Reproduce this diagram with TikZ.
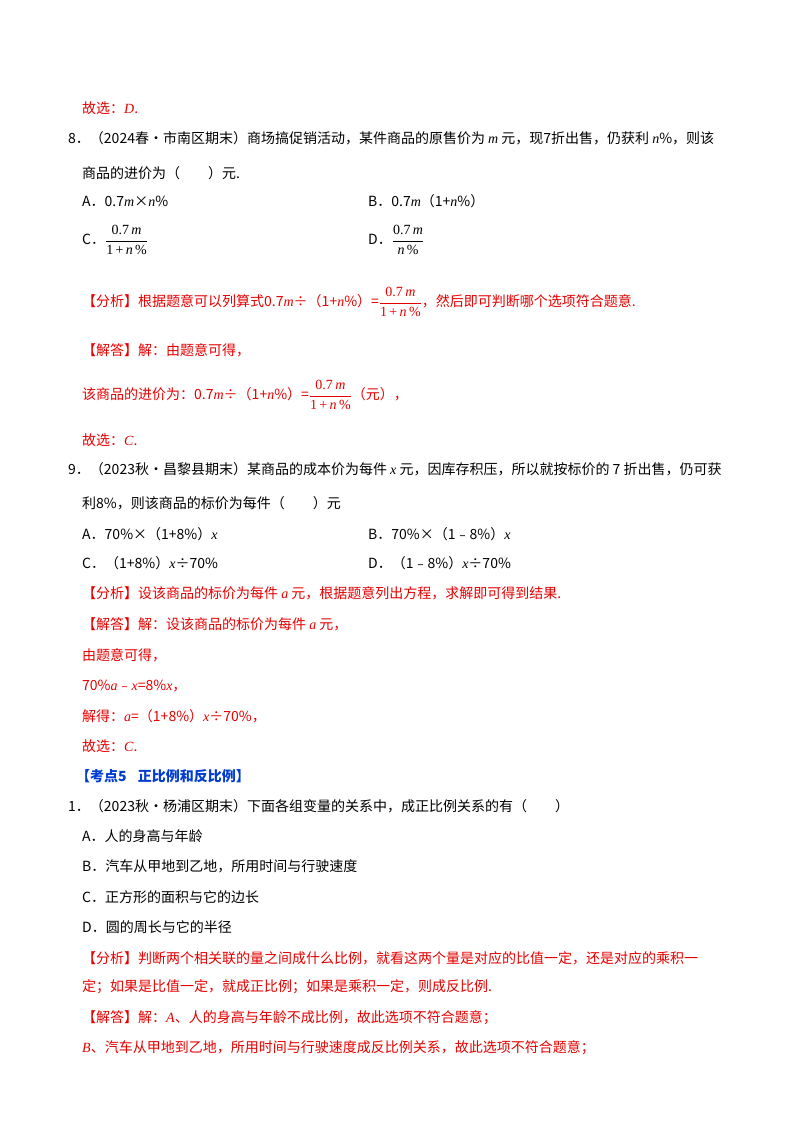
\documentclass[tikz,border=0pt]{standalone}
\usepackage{fontspec}
\usepackage{amsmath}
\setmainfont{Noto Sans CJK SC}
\newfontfamily\tnr{Liberation Serif}
\newcommand\vi[1]{{\tnr\itshape #1}}
\newcommand\frc[2]{\ensuremath{\dfrac{\text{\tnr #1}}{\text{\tnr #2}}}}
\definecolor{rd}{RGB}{230,0,0}
\definecolor{bl}{RGB}{0,60,210}
\begin{document}
\begin{tikzpicture}[x=1pt,y=-1pt,
  t/.style={anchor=west,inner sep=0pt,font=\fontsize{14}{16}\selectfont},
  r/.style={t,text=rd}]
\useasboundingbox (0,0) rectangle (800,1132);
\node[r] (l1) at (82,108) {故选：\vi{D}.};
\node[t] (l2) at (68,138) {8．（2024春•市南区期末）商场搞促销活动，某件商品的原售价为 \vi{m} 元，现7折出售，仍获利 \vi{n}\%，则该};
\node[t] (l3) at (82,173) {商品的进价为（\hspace{2em}）元.};
\node[t] (a8) at (82,201) {A．0.7\vi{m}×\vi{n}\%};
\node[t] (b8) at (368,201) {B．0.7\vi{m}（1+\vi{n}\%）};
\node[t] (c8) at (82,240) {C．\frc{0.7\,\textit{m}}{1\,+\,\textit{n}\,\%}};
\node[t] (d8) at (368,240) {D．\frc{0.7\,\textit{m}}{\textit{n}\,\%}};
\node[r] (f8) at (82,302) {【分析】根据题意可以列算式0.7\vi{m}÷（1+\vi{n}\%）=\frc{0.7\,\textit{m}}{1\,+\,\textit{n}\,\%}，然后即可判断哪个选项符合题意.};
\node[r] (j8) at (82,350) {【解答】解：由题意可得，};
\node[r] (k8) at (82,395) {该商品的进价为：0.7\vi{m}÷（1+\vi{n}\%）=\frc{0.7\,\textit{m}}{1\,+\,\textit{n}\,\%}（元），};
\node[r] (g8) at (82,440) {故选：\vi{C}.};
\node[t] (l9) at (68,469) {9．（2023秋•昌黎县期末）某商品的成本价为每件 \vi{x} 元，因库存积压，所以就按标价的 7 折出售，仍可获};
\node[t] (l9b) at (82,503) {利8\%，则该商品的标价为每件（\hspace{2em}）元};
\node[t] (a9) at (82,534) {A．70\%×（1+8\%）\vi{x}};
\node[t] (b9) at (368,534) {B．70\%×（1﹣8\%）\vi{x}};
\node[t] (c9) at (82,563) {C．（1+8\%）\vi{x}÷70\%};
\node[t] (d9) at (368,563) {D．（1﹣8\%）\vi{x}÷70\%};
\node[r] (f9) at (82,593) {【分析】设该商品的标价为每件 \vi{a} 元，根据题意列出方程，求解即可得到结果.};
\node[r] (j9) at (82,624) {【解答】解：设该商品的标价为每件 \vi{a} 元，};
\node[r] (m9) at (82,655) {由题意可得，};
\node[r] (e9) at (82,686) {70\%\vi{a}﹣\vi{x}=8\%\vi{x}，};
\node[r] (s9) at (82,716) {解得：\vi{a}=（1+8\%）\vi{x}÷70\%，};
\node[r] (g9) at (82,746) {故选：\vi{C}.};
\node[t,text=bl,font=\fontsize{14}{16}\selectfont\bfseries] (h5) at (76,776) {【考点5\hspace{0.8em}正比例和反比例】};
\node[t] (q1) at (68,806) {1．（2023秋•杨浦区期末）下面各组变量的关系中，成正比例关系的有（\hspace{2em}）};
\node[t] (qa) at (82,836) {A．人的身高与年龄};
\node[t] (qb) at (82,866) {B．汽车从甲地到乙地，所用时间与行驶速度};
\node[t] (qc) at (82,897) {C．正方形的面积与它的边长};
\node[t] (qd) at (82,927) {D．圆的周长与它的半径};
\node[r] (f1) at (82,958) {【分析】判断两个相关联的量之间成什么比例，就看这两个量是对应的比值一定，还是对应的乘积一};
\node[r] (f1b) at (82,987) {定；如果是比值一定，就成正比例；如果是乘积一定，则成反比例.};
\node[r] (j1) at (82,1018) {【解答】解：\vi{A}、人的身高与年龄不成比例，故此选项不符合题意；};
\node[r] (j1b) at (82,1048) {\vi{B}、汽车从甲地到乙地，所用时间与行驶速度成反比例关系，故此选项不符合题意；};
\end{tikzpicture}
\end{document}
